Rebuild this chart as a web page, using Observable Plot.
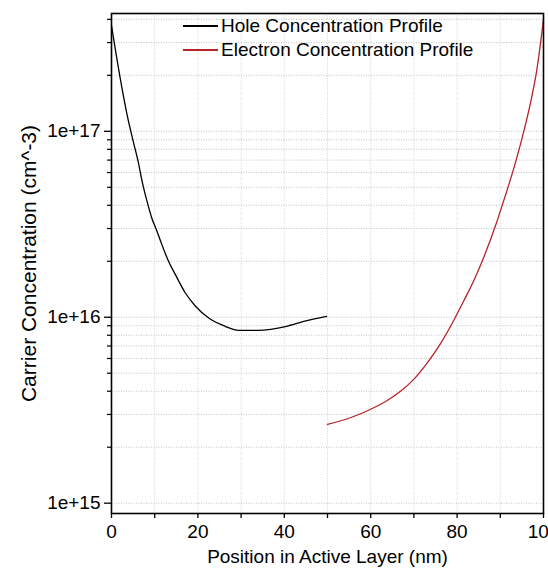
<!DOCTYPE html>
<html>
<head>
<meta charset="utf-8">
<script src="https://cdn.jsdelivr.net/npm/d3@7"></script>
<script src="https://cdn.jsdelivr.net/npm/@observablehq/plot@0.6"></script>
<style>
  html, body { margin: 0; padding: 0; background: #fff; }
  #wrap { position: relative; width: 548px; height: 573px; overflow: hidden; }
  #legend { position: absolute; left: 0; top: 0; width: 548px; height: 80px; font-family: "Liberation Sans", Arial, sans-serif; font-size: 19px; color: #000; }
  .sw { position: absolute; width: 35px; height: 0; }
  .lab { position: absolute; line-height: 1; white-space: nowrap; }
</style>
</head>
<body>
<div id="wrap"></div>
<script>
// ---- data ----
const holeX = [0, 2.0, 3.9, 5.1, 6.25, 7.0, 8.2, 9.3, 10.5, 11.6, 13.2, 14.7, 17.1, 19.4, 22.5, 26.3, 29.4, 34, 40.5, 44.5, 49.8];
const holeY = [3.7e17, 1.94e17, 1.14e17, 8.7e16, 6.75e16, 5.5e16, 4.22e16, 3.43e16, 2.91e16, 2.48e16, 2.0e16, 1.71e16, 1.35e16, 1.15e16, 9.9e15, 8.94e15, 8.5e15, 8.5e15, 8.94e15, 9.5e15, 1.01e16];

const electronX = [50, 55.3, 60, 63.9, 66.9, 69.9, 73.1, 76.2, 79.3, 81.5, 83.8, 85.8, 89.0, 90.7, 93.1, 95.1, 97.2, 98.4, 100];
const electronY = [2.65e15, 2.88e15, 3.2e15, 3.58e15, 4.0e15, 4.62e15, 5.69e15, 7.24e15, 9.7e15, 1.22e16, 1.56e16, 2.0e16, 3.16e16, 4.17e16, 6.3e16, 9.3e16, 1.5e17, 2.1e17, 4.0e17];

const seriesNames = ["Hole Concentration Profile", "Electron Concentration Profile"];
const seriesColors = ["#000000", "#b8232b"];

const xMajorTicks = [0, 20, 40, 60, 80, 100];
const xMinorTicks = [10, 30, 50, 70, 90];
const xGridLines = [10, 20, 30, 40, 50, 60, 70, 80, 90];
const yMajorTicks = [1e15, 1e16, 1e17];
const yMinorTicks = [
  2e15, 3e15, 4e15, 5e15, 6e15, 7e15, 8e15, 9e15,
  2e16, 3e16, 4e16, 5e16, 6e16, 7e16, 8e16, 9e16,
  2e17, 3e17, 4e17
];
const xTitle = "Position in Active Layer (nm)";
const yTitle = "Carrier Concentration (cm^-3)";

const hole = holeX.map((x, i) => ({x, y: holeY[i]}));
const electron = electronX.map((x, i) => ({x, y: electronY[i]}));

const font = "'Liberation Sans', Arial, sans-serif";

const chart = Plot.plot({
  width: 548,
  height: 573,
  marginLeft: 111,
  marginRight: 5,
  marginTop: 13,
  marginBottom: 60,
  style: {fontFamily: font, fontSize: "19px", color: "#000", background: "#fff", overflow: "visible"},
  x: {domain: [0, 100]},
  y: {type: "log", domain: [8.8e14, 4.3e17]},
  marks: [
    Plot.gridX(xGridLines, {stroke: "#d4d4d4", strokeOpacity: 1, strokeDasharray: "1,1.5"}),
    Plot.gridY(yMinorTicks.concat(yMajorTicks), {stroke: "#c4c4c4", strokeOpacity: 1, strokeDasharray: "1,1.5"}),
    Plot.line(hole, {x: "x", y: "y", stroke: seriesColors[0], strokeWidth: 1.3, curve: "monotone-x"}),
    Plot.line(electron, {x: "x", y: "y", stroke: seriesColors[1], strokeWidth: 1.3, curve: "monotone-x"}),
    Plot.frame({stroke: "#000", strokeWidth: 1.6}),
    Plot.axisX(xMajorTicks, {tickSize: 5, tickPadding: 6, fontSize: 19, label: null, strokeWidth: 1.3}),
    Plot.axisX(xMinorTicks, {tickSize: 5, tickFormat: () => "", label: null, strokeWidth: 1.3}),
    Plot.axisY(yMajorTicks, {tickSize: 7, tickPadding: 4, fontSize: 19, label: null, strokeWidth: 1.3,
      tickFormat: d => "1e+" + Math.round(Math.log10(d))}),
    Plot.axisY(yMinorTicks, {tickSize: 4, tickFormat: () => "", label: null, strokeWidth: 1.2}),
    Plot.text([xTitle], {frameAnchor: "bottom", textAnchor: "middle", dy: 49, fontSize: 19, text: d => d, fill: "#000"}),
    Plot.text([yTitle], {frameAnchor: "left", textAnchor: "middle", dx: -82, rotate: -90, fontSize: 21, text: d => d, fill: "#000"})
  ]
});

const wrap = document.getElementById("wrap");
wrap.appendChild(chart);

// legend (HTML overlay, placed inside the plot frame near the top)
const legend = document.createElement("div");
legend.id = "legend";
const rows = [26, 50];
seriesNames.forEach((name, i) => {
  const sw = document.createElement("div");
  sw.className = "sw";
  sw.style.left = "183px";
  sw.style.top = (rows[i] - 1) + "px";
  sw.style.borderTop = "2px solid " + seriesColors[i];
  legend.appendChild(sw);
  const lab = document.createElement("div");
  lab.className = "lab";
  lab.style.left = "221px";
  lab.style.top = (rows[i] - 10) + "px";
  lab.textContent = name;
  legend.appendChild(lab);
});
wrap.appendChild(legend);
</script>
</body>
</html>
